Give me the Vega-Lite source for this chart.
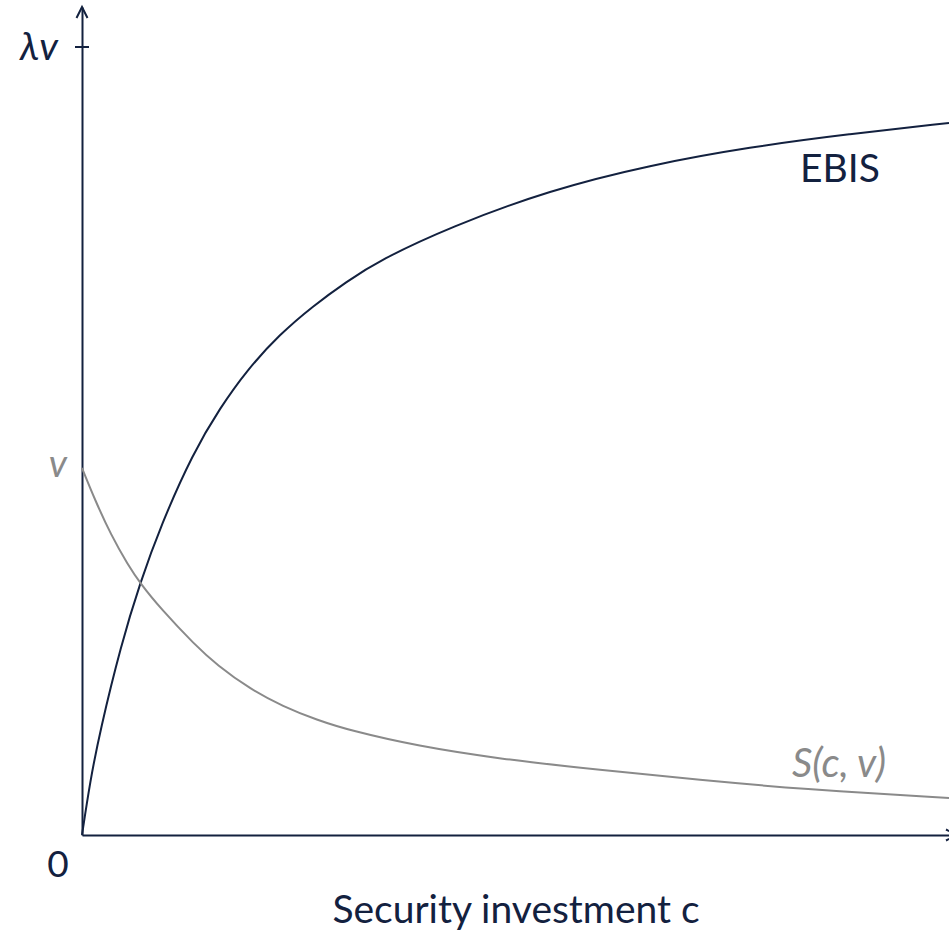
{
  "$schema": "https://vega.github.io/schema/vega-lite/v6.json",
  "width": 867,
  "height": 828,
  "autosize": {"type": "none"},
  "padding": {"left": 82, "top": 7, "right": 0, "bottom": 97},
  "background": "white",
  "config": {"view": {"stroke": null}, "font": "Lato"},
  "datasets": {
    "ebis": [
      {"c": 0, "value": 0}, {"c": 8, "value": 53}, {"c": 18, "value": 104}, {"c": 39, "value": 190},
      {"c": 58, "value": 252}, {"c": 79, "value": 310}, {"c": 111, "value": 382}, {"c": 138, "value": 427},
      {"c": 165, "value": 465}, {"c": 198, "value": 501}, {"c": 231, "value": 529}, {"c": 264, "value": 553},
      {"c": 298, "value": 575}, {"c": 368, "value": 608}, {"c": 468, "value": 645}, {"c": 568, "value": 670},
      {"c": 668, "value": 688}, {"c": 767, "value": 701}, {"c": 867, "value": 712}
    ],
    "security": [
      {"c": 0, "value": 367}, {"c": 13, "value": 335}, {"c": 29, "value": 300}, {"c": 46, "value": 270},
      {"c": 58, "value": 252}, {"c": 79, "value": 226}, {"c": 113, "value": 190}, {"c": 135, "value": 170},
      {"c": 168, "value": 146}, {"c": 201, "value": 128.5}, {"c": 235, "value": 115}, {"c": 268, "value": 104.5},
      {"c": 335, "value": 89}, {"c": 418, "value": 76}, {"c": 518, "value": 65}, {"c": 618, "value": 55},
      {"c": 718, "value": 46}, {"c": 867, "value": 37}
    ]
  },
  "layer": [
    {
      "data": {"name": "ebis"},
      "mark": {"type": "line", "color": "#13213f", "strokeWidth": 2, "interpolate": "basis"},
      "encoding": {
        "x": {
          "field": "c", "type": "quantitative",
          "scale": {"domain": [0, 867], "nice": false, "zero": false},
          "axis": {
            "domain": true, "domainColor": "#13213f", "domainWidth": 2,
            "ticks": false, "labels": false, "grid": false,
            "title": "Security investment c", "titleFont": "Lato", "titleFontSize": 39,
            "titleFontWeight": "normal", "titleColor": "#13213f", "titlePadding": 87,
            "titleBaseline": "alphabetic"
          }
        },
        "y": {
          "field": "value", "type": "quantitative",
          "scale": {"domain": [0, 828], "nice": false, "zero": false},
          "axis": {
            "domain": true, "domainColor": "#13213f", "domainWidth": 2,
            "ticks": false, "labels": false, "grid": false, "title": null
          }
        }
      }
    },
    {
      "data": {"name": "security"},
      "mark": {"type": "line", "color": "#8a8a8a", "strokeWidth": 2, "interpolate": "basis"},
      "encoding": {
        "x": {"field": "c", "type": "quantitative"},
        "y": {"field": "value", "type": "quantitative"}
      }
    },
    {
      "data": {"values": [{"c": 0, "value": 828}]},
      "mark": {"type": "point", "shape": "M-1,2L0,0L1,2", "size": 121, "filled": false, "stroke": "#13213f", "strokeWidth": 2, "opacity": 1},
      "encoding": {
        "x": {"field": "c", "type": "quantitative"},
        "y": {"field": "value", "type": "quantitative"}
      }
    },
    {
      "data": {"values": [{"c": 875, "value": 0}]},
      "mark": {"type": "point", "shape": "M-1,2L0,0L1,2", "size": 121, "angle": 90, "filled": false, "stroke": "#13213f", "strokeWidth": 2, "opacity": 1},
      "encoding": {
        "x": {"field": "c", "type": "quantitative"},
        "y": {"field": "value", "type": "quantitative"}
      }
    },
    {
      "data": {"values": [{"c": 0, "value": 788}]},
      "mark": {"type": "tick", "orient": "horizontal", "size": 14, "thickness": 2, "color": "#13213f", "opacity": 1},
      "encoding": {
        "x": {"field": "c", "type": "quantitative"},
        "y": {"field": "value", "type": "quantitative"}
      }
    },
    {
      "data": {"values": [{"c": 758, "value": 665, "label": "EBIS"}]},
      "mark": {"type": "text", "font": "Lato", "fontSize": 39, "color": "#13213f", "align": "center", "baseline": "middle"},
      "encoding": {
        "x": {"field": "c", "type": "quantitative"},
        "y": {"field": "value", "type": "quantitative"},
        "text": {"field": "label"}
      }
    },
    {
      "data": {"values": [{"c": 757, "value": 58, "label": "S(c, v)"}]},
      "mark": {"type": "text", "font": "Lato", "fontSize": 40, "fontStyle": "italic", "letterSpacing": 4, "color": "#8a8a8a", "align": "center", "baseline": "alphabetic"},
      "encoding": {
        "x": {"field": "c", "type": "quantitative"},
        "y": {"field": "value", "type": "quantitative"},
        "text": {"field": "label"}
      }
    },
    {
      "data": {"values": [{"c": 0, "value": 788, "label": "λv"}]},
      "mark": {"type": "text", "font": "Lato", "fontSize": 39, "fontStyle": "italic", "color": "#13213f", "align": "right", "baseline": "alphabetic", "dx": -24, "dy": 13},
      "encoding": {
        "x": {"field": "c", "type": "quantitative"},
        "y": {"field": "value", "type": "quantitative"},
        "text": {"field": "label"}
      }
    },
    {
      "data": {"values": [{"c": 0, "value": 368, "label": "v"}]},
      "mark": {"type": "text", "font": "Lato", "fontSize": 38, "fontStyle": "italic", "color": "#8a8a8a", "align": "right", "baseline": "alphabetic", "dx": -15, "dy": 10},
      "encoding": {
        "x": {"field": "c", "type": "quantitative"},
        "y": {"field": "value", "type": "quantitative"},
        "text": {"field": "label"}
      }
    },
    {
      "data": {"values": [{"c": 0, "value": 0, "label": "0"}]},
      "mark": {"type": "text", "font": "Lato", "fontSize": 37, "color": "#13213f", "align": "center", "baseline": "alphabetic", "dx": -24, "dy": 42},
      "encoding": {
        "x": {"field": "c", "type": "quantitative"},
        "y": {"field": "value", "type": "quantitative"},
        "text": {"field": "label"}
      }
    }
  ]
}
